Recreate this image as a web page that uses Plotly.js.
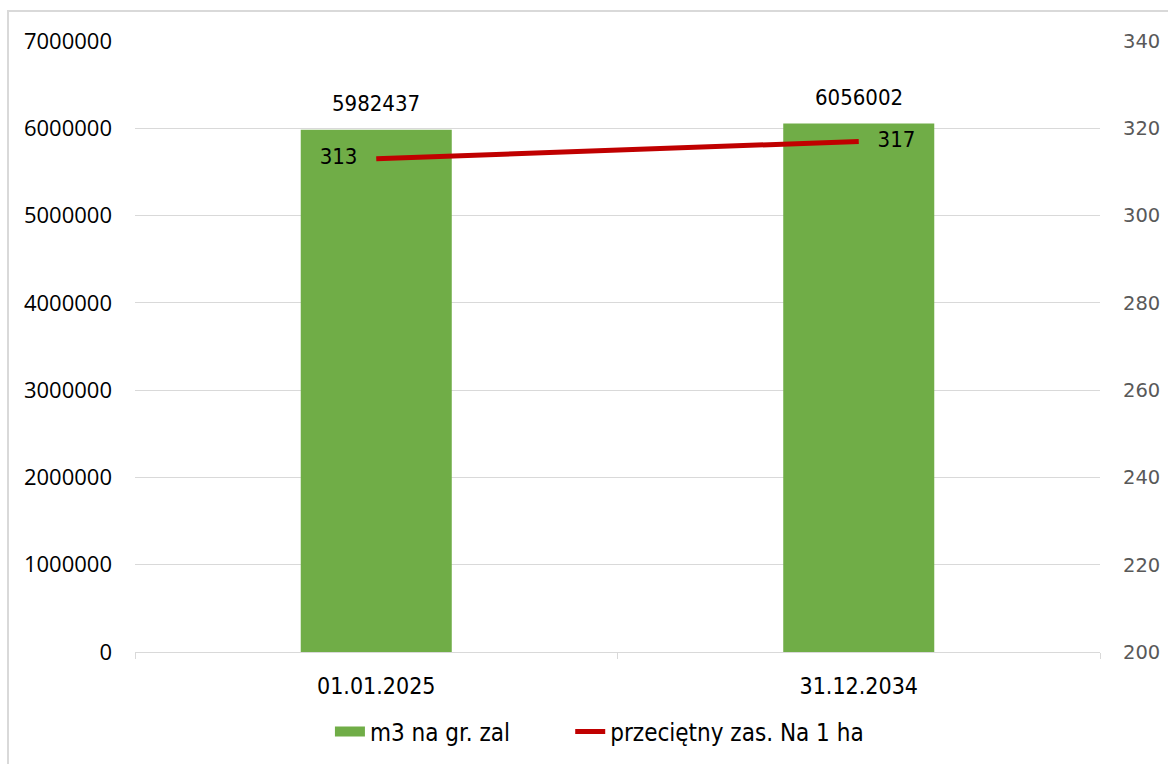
<!DOCTYPE html>
<html>
<head>
<meta charset="utf-8">
<script src="https://cdn.plot.ly/plotly-3.0.1.min.js"></script>
<style>
  html, body { margin: 0; padding: 0; background: #fff; }
  #chart { width: 1168px; height: 764px; }
</style>
</head>
<body>
<div id="chart"></div>
<script>
// dane
var daty = ["01.01.2025", "31.12.2034"];
var zapasM3 = [5982437, 6056002];
var zapasNaHa = [313, 317];
var nazwaSlupki = "m3 na gr. zal";
var nazwaLinia = "przeciętny zas. Na 1 ha";

var fontWaski = "DejaVu Sans Condensed, sans-serif";

var traceBar = {
  x: daty,
  y: zapasM3,
  type: 'bar',
  name: nazwaSlupki,
  width: 0.313,
  marker: { color: '#70ad47' },
  showlegend: false
};

// tylko do legendy (prostokat zamiast kwadratu)
var traceBarLegenda = {
  x: [daty[0]],
  y: [null],
  type: 'scatter',
  mode: 'lines',
  name: nazwaSlupki,
  legend: 'legend',
  line: { color: '#70ad47', width: 16 }
};

var traceLine = {
  x: daty,
  y: zapasNaHa,
  yaxis: 'y2',
  type: 'scatter',
  mode: 'lines+text',
  name: nazwaLinia,
  legend: 'legend2',
  text: zapasNaHa.map(String),
  texttemplate: ['%{text}   ', '   %{text}'],
  textposition: ['middle left', 'middle right'],
  textfont: { family: fontWaski, size: 22, color: '#000' },
  line: { color: '#c00000', width: 5 },
  cliponaxis: false
};

// etykiety nad slupkami
var etykiety = [];
for (var i = 0; i < daty.length; i++) {
  etykiety.push({
    x: daty[i],
    y: zapasM3[i],
    xref: 'x',
    yref: 'y',
    text: String(zapasM3[i]),
    showarrow: false,
    yshift: 26,
    font: { family: fontWaski, size: 22, color: '#000' }
  });
}

var legendaFont = { family: fontWaski, size: 24, color: '#000' };

var layout = {
  width: 1168,
  height: 764,
  margin: { l: 135, r: 68, t: 41, b: 112 },
  paper_bgcolor: '#fff',
  plot_bgcolor: '#fff',
  showlegend: true,
  legend: {
    orientation: 'h',
    x: 0.202,
    xanchor: 'left',
    yref: 'container',
    y: 0.042,
    yanchor: 'middle',
    font: legendaFont
  },
  legend2: {
    orientation: 'h',
    x: 0.451,
    xanchor: 'left',
    yref: 'container',
    y: 0.042,
    yanchor: 'middle',
    font: legendaFont
  },
  xaxis: {
    type: 'category',
    automargin: false,
    showgrid: false,
    showline: true,
    linecolor: '#d9d9d9',
    linewidth: 1,
    ticks: 'outside',
    tickson: 'boundaries',
    ticklen: 6,
    tickcolor: '#d9d9d9',
    ticklabelstandoff: 13,
    tickfont: { family: fontWaski, size: 23, color: '#000' },
    zeroline: false
  },
  yaxis: {
    range: [0, 7000000],
    dtick: 1000000,
    tickformat: 'd',
    automargin: false,
    showgrid: true,
    gridcolor: '#d9d9d9',
    gridwidth: 1,
    zeroline: false,
    showline: false,
    ticks: '',
    ticklabelstandoff: 22,
    tickfont: { family: 'Open Sans, sans-serif', size: 22, color: '#000' }
  },
  yaxis2: {
    overlaying: 'y',
    side: 'right',
    range: [200, 340],
    dtick: 20,
    automargin: false,
    showgrid: false,
    zeroline: false,
    showline: false,
    ticks: '',
    ticklabelstandoff: 22,
    tickfont: { family: 'DejaVu Sans, sans-serif', size: 19.5, color: '#595959' }
  },
  annotations: etykiety,
  shapes: [{
    type: 'rect',
    xref: 'paper', yref: 'paper',
    x0: -0.1316, x1: 1.2, y0: -0.3, y1: 1.049,
    line: { color: '#d9d9d9', width: 2 },
    fillcolor: 'rgba(0,0,0,0)',
    layer: 'below'
  }]
};

Plotly.newPlot('chart', [traceBar, traceBarLegenda, traceLine], layout, { displayModeBar: false, staticPlot: true });
</script>
</body>
</html>
